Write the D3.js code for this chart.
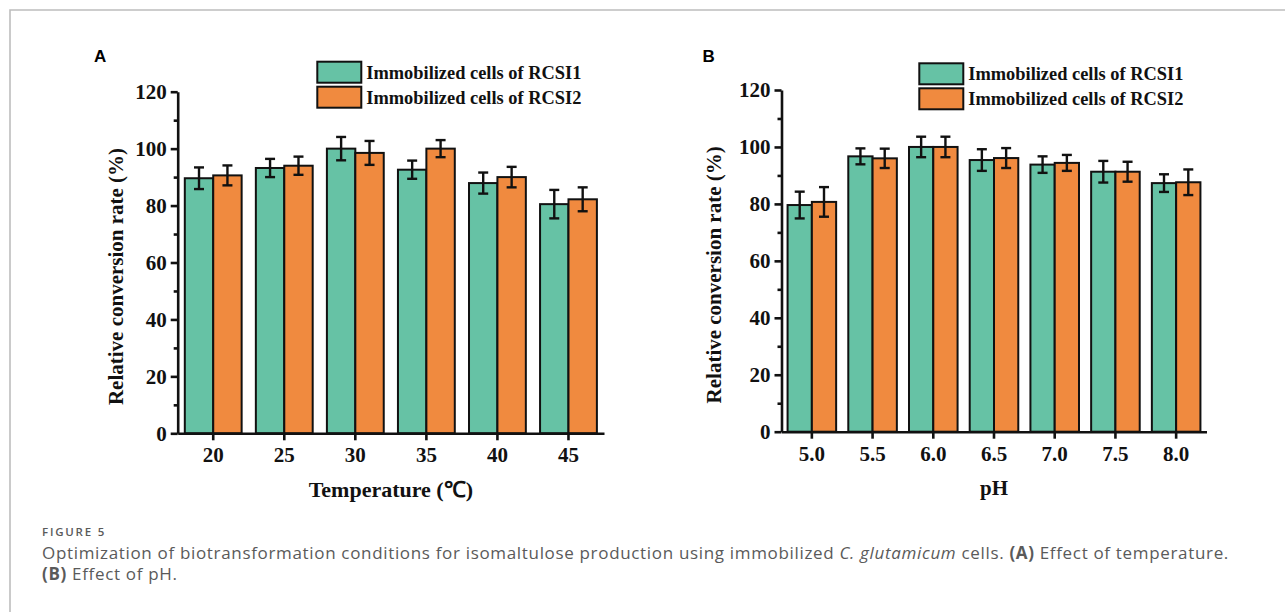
<!DOCTYPE html>
<html>
<head>
<meta charset="utf-8">
<script src="https://cdn.jsdelivr.net/npm/d3@7"></script>
<style>
  html, body { margin: 0; padding: 0; background: #fff; }
  svg { display: block; }
</style>
</head>
<body>
<svg id="chart" width="1285" height="612"></svg>
<script>
// ---------- DATA ----------
const seriesNames = ["Immobilized cells of RCSI1", "Immobilized cells of RCSI2"];
const seriesColors = ["#66c2a5", "#f08a3f"];

const tempCategories = ["20", "25", "30", "35", "40", "45"];
const tempRCSI1 = [89.6, 93.2, 100.0, 92.6, 87.9, 80.5];
const tempRCSI1Err = [3.8, 3.2, 4.1, 3.2, 3.7, 5.0];
const tempRCSI2 = [90.6, 94.0, 98.5, 100.0, 90.0, 82.2];
const tempRCSI2Err = [3.5, 3.2, 4.2, 3.0, 3.6, 4.2];

const phCategories = ["5.0", "5.5", "6.0", "6.5", "7.0", "7.5", "8.0"];
const phRCSI1 = [79.6, 96.7, 100.0, 95.4, 93.8, 91.3, 87.3];
const phRCSI1Err = [4.7, 2.8, 3.6, 3.8, 2.9, 3.8, 3.1];
const phRCSI2 = [80.7, 96.0, 100.0, 96.1, 94.4, 91.3, 87.6];
const phRCSI2Err = [5.2, 3.4, 3.6, 3.5, 2.8, 3.5, 4.5];

const yTicks = [0, 20, 40, 60, 80, 100, 120];
const yMinorTicks = [10, 30, 50, 70, 90, 110];
const yAxisTitle = "Relative conversion rate (%)";

// ---------- DRAW ----------
const svg = d3.select("#chart");
const serif = "'Liberation Serif', 'Times New Roman', serif";

// outer frame
svg.append("path")
  .attr("d", "M10,612 L10,10 L1285,10")
  .attr("fill", "none").attr("stroke", "#bdbdbd").attr("stroke-width", 1.6);

function panel(opt) {
  const g = svg.append("g");
  const x = d3.scaleBand().domain(opt.categories)
    .range([opt.x0, opt.x1]).paddingInner(0.2).paddingOuter(0.1);
  const y = d3.scaleLinear().domain([0, 120]).range([opt.y0, opt.y1]);
  const sub = d3.scaleBand().domain([0, 1]).range([0, x.bandwidth()]);

  const series = [
    { vals: opt.s1, errs: opt.e1, color: seriesColors[0] },
    { vals: opt.s2, errs: opt.e2, color: seriesColors[1] }
  ];

  // bars
  series.forEach((s, si) => {
    g.selectAll(null).data(opt.categories).enter().append("rect")
      .attr("x", d => x(d) + sub(si))
      .attr("y", (d, i) => y(s.vals[i]))
      .attr("width", sub.bandwidth())
      .attr("height", (d, i) => y(0) - y(s.vals[i]))
      .attr("fill", s.color)
      .attr("stroke", "#111").attr("stroke-width", 2);
  });

  // error bars
  series.forEach((s, si) => {
    const cx = d => x(d) + sub(si) + sub.bandwidth() / 2;
    const eg = g.selectAll(null).data(opt.categories).enter().append("g");
    eg.append("line")
      .attr("x1", cx).attr("x2", cx)
      .attr("y1", (d, i) => y(s.vals[i] - s.errs[i]))
      .attr("y2", (d, i) => y(s.vals[i] + s.errs[i]));
    eg.append("line")
      .attr("x1", d => cx(d) - 5).attr("x2", d => cx(d) + 5)
      .attr("y1", (d, i) => y(s.vals[i] + s.errs[i]))
      .attr("y2", (d, i) => y(s.vals[i] + s.errs[i]));
    eg.append("line")
      .attr("x1", d => cx(d) - 5).attr("x2", d => cx(d) + 5)
      .attr("y1", (d, i) => y(s.vals[i] - s.errs[i]))
      .attr("y2", (d, i) => y(s.vals[i] - s.errs[i]));
    eg.selectAll("line").attr("stroke", "#111").attr("stroke-width", 2.4);
  });

  // y axis
  g.append("g").attr("transform", `translate(${opt.x0},0)`)
    .call(d3.axisLeft(y).tickValues(yTicks).tickSize(7).tickSizeOuter(0).tickPadding(4));
  g.append("g").attr("transform", `translate(${opt.x0},0)`)
    .call(d3.axisLeft(y).tickValues(yMinorTicks).tickSize(4).tickSizeOuter(0).tickFormat(""))
    .call(a => a.select(".domain").remove());

  // x axis
  g.append("g").attr("transform", `translate(0,${opt.y0})`)
    .call(d3.axisBottom(x).tickSize(7).tickSizeOuter(0).tickPadding(7));

  g.selectAll(".domain, .tick line").attr("stroke", "#111").attr("stroke-width", 2.6);
  g.selectAll(".tick text").attr("font-family", serif).attr("font-weight", "bold")
    .attr("font-size", 21).attr("fill", "#111");

  // axis titles
  g.append("text")
    .attr("transform", `translate(${opt.ytx},${(opt.y0 + opt.y1) / 2 + opt.ytdy}) rotate(-90)`)
    .attr("text-anchor", "middle").attr("font-family", serif).attr("font-weight", "bold")
    .attr("font-size", 21).attr("fill", "#111").text(yAxisTitle);
  g.append("text")
    .attr("x", (opt.x0 + opt.x1) / 2).attr("y", opt.xty)
    .attr("text-anchor", "middle").attr("font-family", serif).attr("font-weight", "bold")
    .attr("font-size", opt.xtSize).attr("fill", "#111").text(opt.xTitle);

  // legend
  const lg = g.append("g").attr("transform", `translate(${opt.lx},${opt.ly})`);
  seriesNames.forEach((n, i) => {
    lg.append("rect").attr("x", 0).attr("y", i * 25).attr("width", 44).attr("height", 21)
      .attr("fill", seriesColors[i]).attr("stroke", "#111").attr("stroke-width", 2);
    lg.append("text").attr("x", 49).attr("y", i * 25 + 17)
      .attr("font-family", serif).attr("font-weight", "bold").attr("font-size", 18.4)
      .attr("fill", "#111").text(n);
  });

  // panel label
  g.append("text").attr("x", opt.px).attr("y", 62)
    .attr("font-family", "'Liberation Sans', Arial, sans-serif").attr("font-weight", "bold")
    .attr("font-size", 17).attr("fill", "#000").text(opt.label);
}

panel({
  categories: tempCategories, s1: tempRCSI1, e1: tempRCSI1Err, s2: tempRCSI2, e2: tempRCSI2Err,
  x0: 177.7, x1: 604, y0: 433.3, y1: 91.7,
  ytx: 123, ytdy: 14, xty: 497, xTitle: "Temperature (\u2103)", xtSize: 22,
  lx: 317.3, ly: 61.7, px: 94, label: "A"
});
panel({
  categories: phCategories, s1: phRCSI1, e1: phRCSI1Err, s2: phRCSI2, e2: phRCSI2Err,
  x0: 781.5, x1: 1206.5, y0: 431.7, y1: 90,
  ytx: 721, ytdy: 14, xty: 495, xTitle: "pH", xtSize: 21,
  lx: 919.3, ly: 63.3, px: 702.5, label: "B"
});

// caption
const capX = 42;
const cap = svg.append("g").attr("font-family", "'Open Sans', sans-serif").attr("fill", "#5a5a5a");
const fig = cap.append("text").attr("x", capX).attr("y", 536).attr("font-size", 11.5).attr("font-weight", 600)
  .text("FIGURE 5");
const figW = fig.node().getComputedTextLength();
fig.attr("letter-spacing", Math.max(0, (64 - figW) / 8));

const l1 = cap.append("text").attr("x", capX).attr("y", 559).attr("font-size", 17);
l1.append("tspan").text("Optimization of biotransformation conditions for isomaltulose production using immobilized ");
l1.append("tspan").attr("font-style", "italic").text("C. glutamicum");
l1.append("tspan").text(" cells. ");
l1.append("tspan").attr("font-weight", "bold").text("(A)");
l1.append("tspan").text(" Effect of temperature.");
const l1W = l1.node().getComputedTextLength();
const nChars = l1.text().length;
const ls = Math.max(0, (1187 - l1W) / nChars);
l1.attr("letter-spacing", ls);

const l2 = cap.append("text").attr("x", capX).attr("y", 580).attr("font-size", 17).attr("letter-spacing", ls);
l2.append("tspan").attr("font-weight", "bold").text("(B)");
l2.append("tspan").text(" Effect of pH.");
</script>
</body>
</html>
